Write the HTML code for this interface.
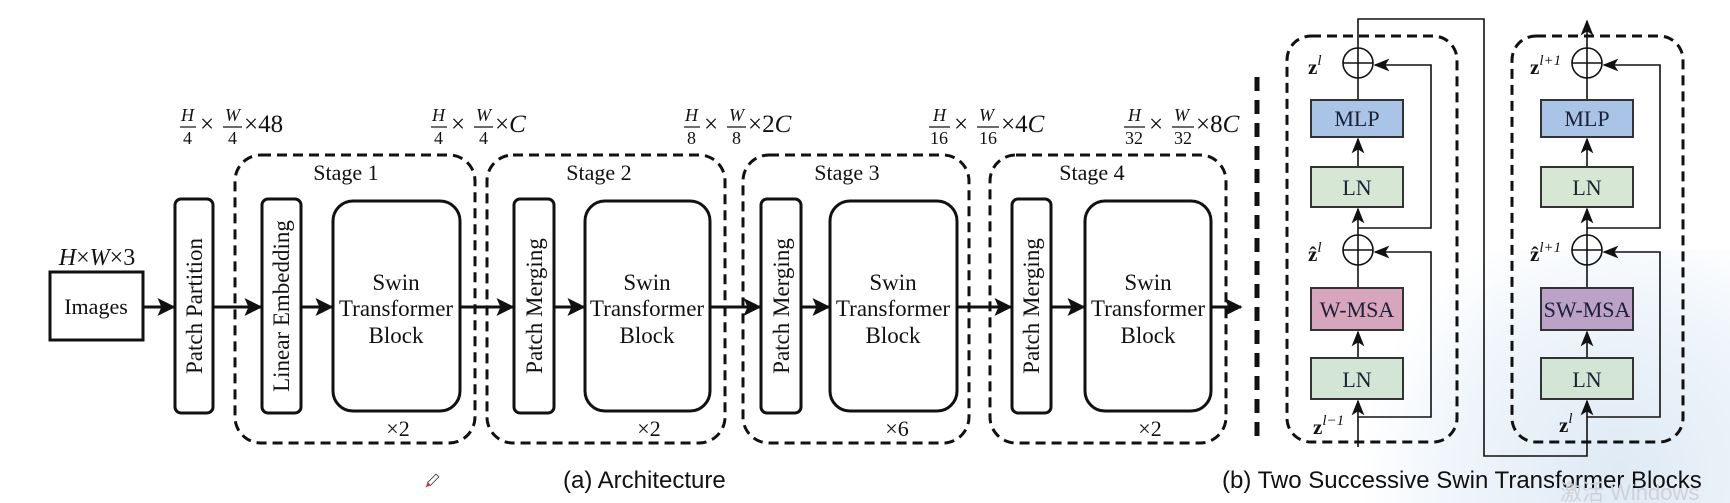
<!DOCTYPE html>
<html><head><meta charset="utf-8"><style>
html,body{margin:0;padding:0;background:#fff;}
svg{display:block;}
.s{font-family:"Liberation Serif",serif;fill:#111;}
.a{font-family:"Liberation Sans",sans-serif;fill:#111;}
</style></head><body>
<svg width="1730" height="503" viewBox="0 0 1730 503" xmlns="http://www.w3.org/2000/svg">
<defs>
<radialGradient id="bg" cx="1620" cy="470" r="260" gradientUnits="userSpaceOnUse">
<stop offset="0" stop-color="#dfeaf5"/><stop offset="0.6" stop-color="#eef4fa"/><stop offset="1" stop-color="#ffffff"/>
</radialGradient>
<marker id="ah" markerWidth="6" markerHeight="6" refX="5.5" refY="3" orient="auto" markerUnits="strokeWidth">
<path d="M0,0 L6,3 L0,6 L1.3,3 z" fill="#111"/></marker>
<marker id="ah2" markerWidth="10" markerHeight="8" refX="9" refY="4" orient="auto" markerUnits="strokeWidth">
<path d="M0,0 L10,4 L0,8 L2.5,4 z" fill="#111"/></marker>
</defs>
<rect width="1730" height="503" fill="#fff"/>
<rect x="1300" y="250" width="430" height="253" fill="url(#bg)"/>

<!-- Top dimension labels -->
<g class="s" font-size="25">
<g transform="translate(180,0)"><text x="1" y="121" font-style="italic" font-size="18">H</text><line x1="0" y1="127" x2="16" y2="127" stroke="#111" stroke-width="1.2"/><text x="3" y="144" font-size="18">4</text><text x="20" y="132">×</text><text x="45" y="121" font-style="italic" font-size="18">W</text><line x1="43" y1="127" x2="62" y2="127" stroke="#111" stroke-width="1.2"/><text x="48" y="144" font-size="18">4</text><text x="64" y="132">×48</text></g>
<g transform="translate(431,0)"><text x="1" y="121" font-style="italic" font-size="18">H</text><line x1="0" y1="127" x2="16" y2="127" stroke="#111" stroke-width="1.2"/><text x="3" y="144" font-size="18">4</text><text x="20" y="132">×</text><text x="45" y="121" font-style="italic" font-size="18">W</text><line x1="43" y1="127" x2="62" y2="127" stroke="#111" stroke-width="1.2"/><text x="48" y="144" font-size="18">4</text><text x="64" y="132">×<tspan font-style="italic">C</tspan></text></g>
<g transform="translate(684,0)"><text x="1" y="121" font-style="italic" font-size="18">H</text><line x1="0" y1="127" x2="16" y2="127" stroke="#111" stroke-width="1.2"/><text x="3" y="144" font-size="18">8</text><text x="20" y="132">×</text><text x="45" y="121" font-style="italic" font-size="18">W</text><line x1="43" y1="127" x2="62" y2="127" stroke="#111" stroke-width="1.2"/><text x="48" y="144" font-size="18">8</text><text x="64" y="132">×2<tspan font-style="italic">C</tspan></text></g>
<g transform="translate(929,0)"><text x="4" y="121" font-style="italic" font-size="18">H</text><line x1="0" y1="127" x2="21" y2="127" stroke="#111" stroke-width="1.2"/><text x="1" y="144" font-size="18">16</text><text x="25" y="132">×</text><text x="50" y="121" font-style="italic" font-size="18">W</text><line x1="48" y1="127" x2="70" y2="127" stroke="#111" stroke-width="1.2"/><text x="50" y="144" font-size="18">16</text><text x="72" y="132">×4<tspan font-style="italic">C</tspan></text></g>
<g transform="translate(1124,0)"><text x="4" y="121" font-style="italic" font-size="18">H</text><line x1="0" y1="127" x2="21" y2="127" stroke="#111" stroke-width="1.2"/><text x="1" y="144" font-size="18">32</text><text x="25" y="132">×</text><text x="50" y="121" font-style="italic" font-size="18">W</text><line x1="48" y1="127" x2="70" y2="127" stroke="#111" stroke-width="1.2"/><text x="50" y="144" font-size="18">32</text><text x="72" y="132">×8<tspan font-style="italic">C</tspan></text></g>
</g>

<!-- Stage dashed boxes -->
<g fill="none" stroke="#111" stroke-width="3" stroke-dasharray="10,6">
<rect x="235" y="155" width="240" height="288" rx="26"/>
<rect x="487" y="155" width="238" height="288" rx="26"/>
<rect x="743" y="155" width="226" height="288" rx="26"/>
<rect x="990" y="155" width="236" height="288" rx="26"/>
</g>
<g class="s" font-size="22" text-anchor="middle">
<text x="346" y="180">Stage 1</text><text x="599" y="180">Stage 2</text><text x="847" y="180">Stage 3</text><text x="1092" y="180">Stage 4</text>
<text x="398" y="436">×2</text><text x="649" y="436">×2</text><text x="897" y="436">×6</text><text x="1150" y="436">×2</text>
</g>

<!-- Images -->
<text class="s" x="97" y="265" font-size="24" text-anchor="middle" font-style="italic">H<tspan font-style="normal">×</tspan>W<tspan font-style="normal">×3</tspan></text>
<rect x="50" y="272" width="93" height="68" fill="#fff" stroke="#111" stroke-width="3"/>
<text class="s" x="96" y="314" font-size="22" text-anchor="middle">Images</text>

<!-- Tall boxes -->
<g fill="#fff" stroke="#111" stroke-width="3">
<rect x="175" y="199" width="38" height="214" rx="6"/>
<rect x="262" y="199" width="39" height="214" rx="6"/>
<rect x="514" y="199" width="40" height="214" rx="6"/>
<rect x="761" y="199" width="40" height="214" rx="6"/>
<rect x="1012" y="199" width="39" height="214" rx="6"/>
<rect x="333" y="201" width="127" height="210" rx="20"/>
<rect x="585" y="201" width="125" height="210" rx="20"/>
<rect x="830" y="201" width="127" height="210" rx="20"/>
<rect x="1085" y="201" width="126" height="210" rx="20"/>
</g>
<g class="s" font-size="23" text-anchor="middle">
<text transform="translate(202,306) rotate(-90)">Patch Partition</text>
<text transform="translate(289,306) rotate(-90)">Linear Embedding</text>
<text transform="translate(542,306) rotate(-90)">Patch Merging</text>
<text transform="translate(789,306) rotate(-90)">Patch Merging</text>
<text transform="translate(1039,306) rotate(-90)">Patch Merging</text>
</g>
<g class="s" font-size="23" text-anchor="middle">
<text x="396" y="290">Swin</text><text x="396" y="316">Transformer</text><text x="396" y="343">Block</text>
<text x="647" y="290">Swin</text><text x="647" y="316">Transformer</text><text x="647" y="343">Block</text>
<text x="893" y="290">Swin</text><text x="893" y="316">Transformer</text><text x="893" y="343">Block</text>
<text x="1148" y="290">Swin</text><text x="1148" y="316">Transformer</text><text x="1148" y="343">Block</text>
</g>
<!-- horizontal arrows -->
<g stroke="#111" stroke-width="3" marker-end="url(#ah)">
<line x1="143" y1="307" x2="174" y2="307"/>
<line x1="213" y1="307" x2="261" y2="307"/>
<line x1="301" y1="307" x2="332" y2="307"/>
<line x1="460" y1="307" x2="513" y2="307"/>
<line x1="554" y1="307" x2="584" y2="307"/>
<line x1="710" y1="307" x2="760" y2="307"/>
<line x1="801" y1="307" x2="829" y2="307"/>
<line x1="957" y1="307" x2="1011" y2="307"/>
<line x1="1051" y1="307" x2="1084" y2="307"/>
<line x1="1211" y1="307" x2="1241" y2="307"/>
</g>

<!-- separator -->
<line x1="1257" y1="77" x2="1257" y2="445" stroke="#111" stroke-width="5" stroke-dasharray="14,9"/>

<!-- Right blocks dashed -->
<g fill="none" stroke="#111" stroke-width="3" stroke-dasharray="10,6">
<rect x="1287" y="36" width="170" height="406" rx="24"/>
<rect x="1512" y="36" width="171" height="406" rx="24"/>
</g>

<g fill="none" stroke="#111" stroke-width="1.6">
<polyline points="1358,48 1358,19 1484,19 1484,456 1587,456 1587,401" marker-end="url(#ah2)"/>
<line x1="1358" y1="447" x2="1358" y2="401" marker-end="url(#ah2)"/>
<polyline points="1358,417 1431,417 1431,252 1375,252" marker-end="url(#ah2)"/>
<line x1="1358" y1="358" x2="1358" y2="332" marker-end="url(#ah2)"/>
<line x1="1358" y1="288" x2="1358" y2="265"/>
<line x1="1358" y1="235" x2="1358" y2="209" marker-end="url(#ah2)"/>
<polyline points="1358,228 1431,228 1431,65 1375,65" marker-end="url(#ah2)"/>
<line x1="1358" y1="167" x2="1358" y2="139" marker-end="url(#ah2)"/>
<line x1="1358" y1="100" x2="1358" y2="78"/>
<circle cx="1358" cy="63" r="15"/><line x1="1343" y1="63" x2="1373" y2="63"/><line x1="1358" y1="48" x2="1358" y2="78"/>
<circle cx="1358" cy="250" r="15"/><line x1="1343" y1="250" x2="1373" y2="250"/><line x1="1358" y1="235" x2="1358" y2="265"/>
<line x1="1587" y1="48" x2="1587" y2="21" marker-end="url(#ah2)"/>
<polyline points="1587,417 1660,417 1660,252 1604,252" marker-end="url(#ah2)"/>
<line x1="1587" y1="358" x2="1587" y2="332" marker-end="url(#ah2)"/>
<line x1="1587" y1="288" x2="1587" y2="265"/>
<line x1="1587" y1="235" x2="1587" y2="209" marker-end="url(#ah2)"/>
<polyline points="1587,228 1660,228 1660,65 1604,65" marker-end="url(#ah2)"/>
<line x1="1587" y1="167" x2="1587" y2="139" marker-end="url(#ah2)"/>
<line x1="1587" y1="100" x2="1587" y2="78"/>
<circle cx="1587" cy="63" r="15"/><line x1="1572" y1="63" x2="1602" y2="63"/><line x1="1587" y1="48" x2="1587" y2="78"/>
<circle cx="1587" cy="250" r="15"/><line x1="1572" y1="250" x2="1602" y2="250"/><line x1="1587" y1="235" x2="1587" y2="265"/>
</g>
<g stroke="#333" stroke-width="2">
<rect x="1311" y="100" width="92" height="37" fill="#aac4e8"/>
<rect x="1311" y="167" width="92" height="40" fill="#d6e7d4"/>
<rect x="1311" y="288" width="92" height="42" fill="#d8a6bc"/>
<rect x="1311" y="358" width="92" height="41" fill="#d3e6d5"/>
<rect x="1541" y="100" width="92" height="37" fill="#aac4e8"/>
<rect x="1541" y="167" width="92" height="40" fill="#d6e7d4"/>
<rect x="1541" y="288" width="92" height="42" fill="#bba2c6"/>
<rect x="1541" y="358" width="92" height="41" fill="#d3e6d5"/>
</g>
<g class="s" font-size="22" text-anchor="middle" style="fill:#1a2035">
<text x="1357" y="126">MLP</text><text x="1357" y="195">LN</text><text x="1357" y="317">W-MSA</text><text x="1357" y="387">LN</text>
<text x="1587" y="126">MLP</text><text x="1587" y="195">LN</text><text x="1587" y="317">SW-MSA</text><text x="1587" y="387">LN</text>
</g>
<g class="s" font-size="21" font-weight="bold">
<text x="1308" y="74">z<tspan font-size="15" font-weight="normal" font-style="italic" dy="-9">l</tspan></text>
<text x="1308" y="261">ẑ<tspan font-size="15" font-weight="normal" font-style="italic" dy="-9">l</tspan></text>
<text x="1313" y="434">z<tspan font-size="15" font-weight="normal" font-style="italic" dy="-9">l−1</tspan></text>
<text x="1530" y="74">z<tspan font-size="15" font-weight="normal" font-style="italic" dy="-9">l+1</tspan></text>
<text x="1530" y="261">ẑ<tspan font-size="15" font-weight="normal" font-style="italic" dy="-9">l+1</tspan></text>
<text x="1559" y="432">z<tspan font-size="15" font-weight="normal" font-style="italic" dy="-9">l</tspan></text>
</g>

<!-- captions -->
<text class="a" x="563" y="488" font-size="24">(a) Architecture</text>
<text class="a" x="1222" y="488" font-size="24">(b) Two Successive Swin Transformer Blocks</text>
<text x="1560" y="500" font-family="'Liberation Sans','Noto Sans CJK SC',sans-serif" font-size="22" fill="#cfd2d8">激活 Windows</text>
<g transform="translate(429,484) rotate(-45)"><rect x="0" y="-2" width="12" height="4" fill="#fff" stroke="#333" stroke-width="0.8"/><path d="M0,-2 L-5,0 L0,2 z" fill="#e0284a"/></g>
</svg>
</body></html>
